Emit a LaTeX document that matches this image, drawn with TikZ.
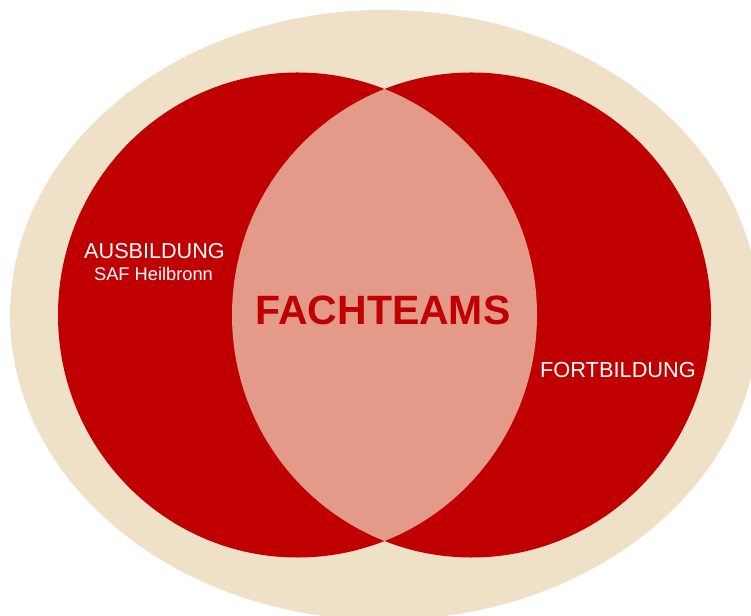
\documentclass[tikz,border=0pt]{standalone}
\usepackage{fontspec}
\setmainfont{Liberation Sans}
\usepackage{tikz}
\definecolor{saframe}{HTML}{EEE1C7}
\definecolor{safred}{HTML}{C00000}
\definecolor{saflens}{HTML}{E39A88}
\newcommand{\ring}[2]{%
 \fill [{#2}] ({#1}) ellipse [x radius=4.79, y radius=4.85]; %
}
\tikzset{white text/.style={text=white, inner sep=0pt, anchor=base}}

\begin{document}
\begin{tikzpicture}
   \useasboundingbox (0,0) rectangle (15.02,12.3);
   \fill[saframe] (7.69,6.0) ellipse [x radius=7.49, y radius=6.1];
   \ring{5.95,6.0}{safred}
   \ring{9.43,6.0}{safred}
   \begin{scope}
     \clip (5.95,6.0) ellipse [x radius=4.79, y radius=4.85];
     \ring{9.43,6.0}{saflens}
   \end{scope}
   \node (ausbildung) [white text, font=\fontsize{12.3}{14}\selectfont] at (3.09,7.13) {AUSBILDUNG};
   \node (saf) [white text, font=\fontsize{10.4}{12}\selectfont] at (3.07,6.68) {SAF Heilbronn};
   \node (fortbildung) [white text, font=\fontsize{12.4}{14}\selectfont] at (12.36,4.75) {FORTBILDUNG};
   \node (fachteams) [inner sep=0pt, anchor=base, text=safred, font=\bfseries\fontsize{23.3}{27}\selectfont] at (7.66,5.81) {FACHTEAMS};
\end{tikzpicture}
\end{document}
